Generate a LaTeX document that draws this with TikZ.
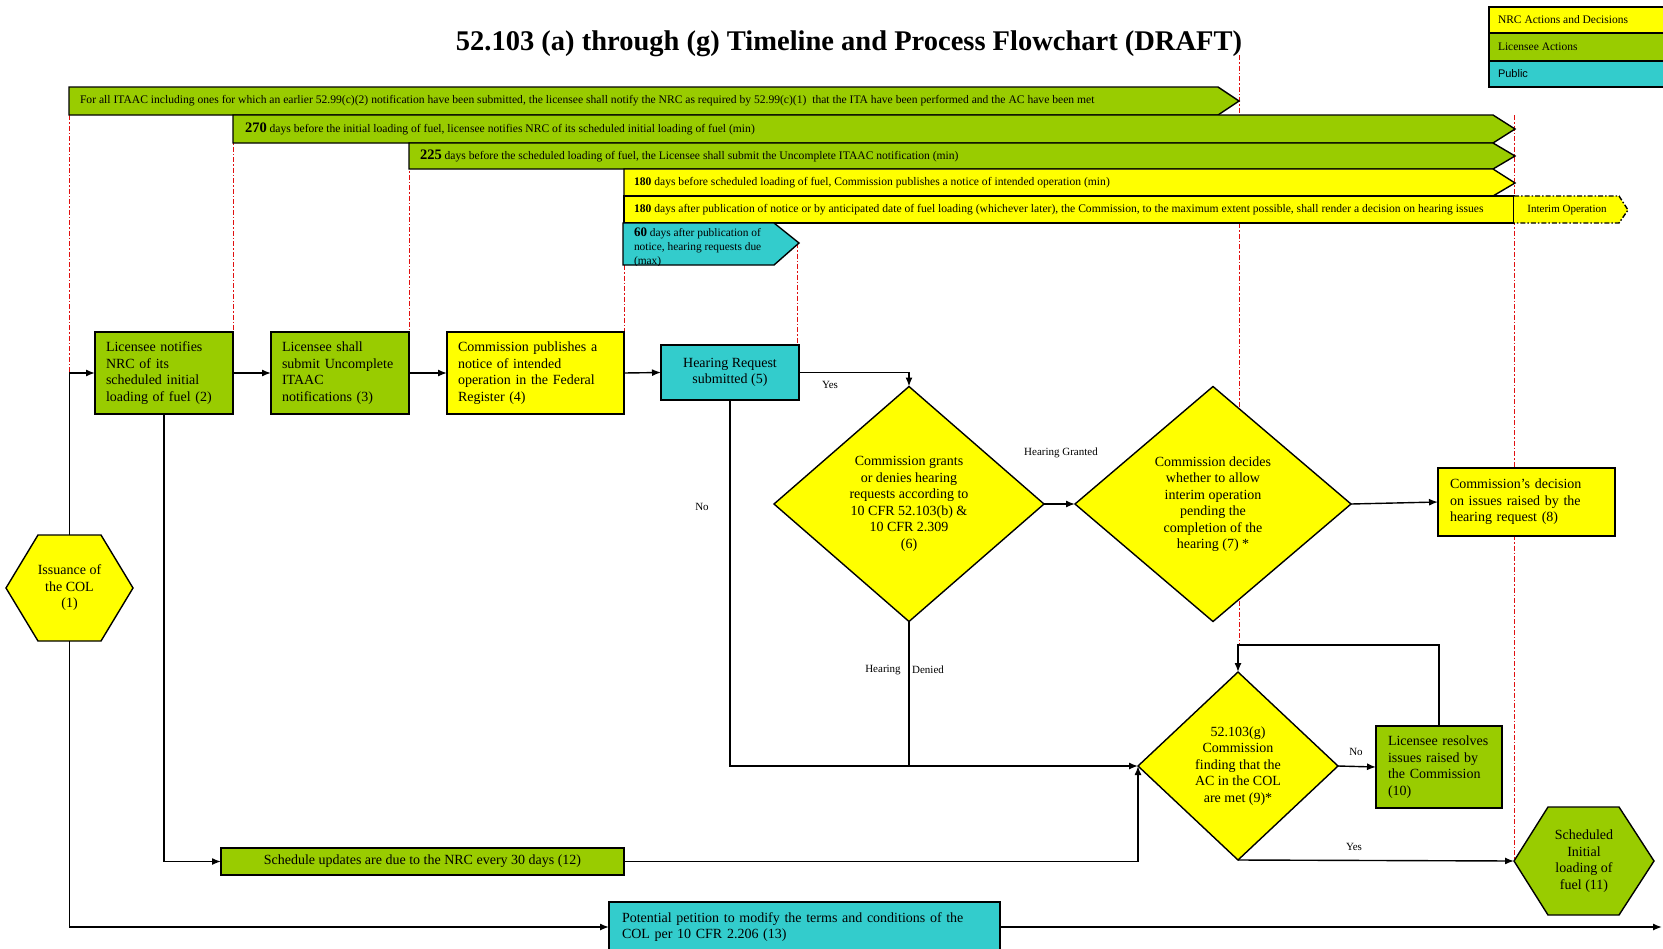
\documentclass[tikz,border=0pt]{standalone}
\usepackage{fontspec}
\setmainfont{Liberation Serif}
\newfontfamily\legsans{Liberation Sans}
\usetikzlibrary{arrows.meta,shapes.geometric,calc}
\definecolor{nrcy}{HTML}{FFFF00}
\definecolor{licg}{HTML}{99CC00}
\definecolor{pubc}{HTML}{33CCCC}
\definecolor{reddash}{HTML}{E01010}
\newcommand\fs[2]{\fontsize{#1}{#2}\selectfont}
\begin{document}
\begin{tikzpicture}[x=1pt,y=-1pt,
  every node/.style={inner sep=0pt, outer sep=0pt},
  border/.style={draw=black, line width=1.4pt},
  box/.style={border, font=\fs{14}{16.5}},
  leftbox/.style={box, align=left},
  ctrbox/.style={box, align=center},
  dia/.style={border, diamond, fill=nrcy, align=center, font=\fs{14}{16.5}},
  bartext/.style={anchor=west, font=\fs{11.6}{13}},
  redline/.style={draw=reddash, line width=0.9pt, dash pattern=on 5pt off 2pt on 1.5pt off 2pt},
  conn/.style={draw=black, line width=1.4pt},
  arr/.style={conn, -{Latex[length=9pt,width=7pt]}},
  lbl/.style={font=\fs{11}{12}},
  legtext/.style={anchor=west, font=\fs{11.5}{13}}
]
\useasboundingbox (0,0) rectangle (1663,948);

% title
\node[font=\fs{28.5}{31}\bfseries] (title) at (849,44) {52.103 (a) through (g) Timeline and Process Flowchart (DRAFT)};

% legend
\filldraw[nrcy, border] (1489,7) rectangle (1665,33);
\filldraw[licg, border] (1489,33) rectangle (1665,61);
\filldraw[pubc, border] (1489,61) rectangle (1665,87);
\node[legtext] (legA) at (1498,20) {NRC Actions and Decisions};
\node[legtext] (legB) at (1498,47) {Licensee Actions};
\node[legtext, font=\legsans\fs{11}{13}] (legC) at (1498,74) {Public};

% red timeline markers
\draw[redline] (69,115) -- (69,400);
\draw[redline] (233,115) -- (233,332);
\draw[redline] (409,143) -- (409,332);
\draw[redline] (624,265) -- (624,332);
\draw[redline] (797,243) -- (797,345);
\draw[redline] (1239,55) -- (1239,645);
\draw[redline] (1514,115) -- (1514,861);

% timeline bars
\filldraw[licg, border] (69,87) -- (1218,87) -- (1239,101) -- (1218,115) -- (69,115) -- cycle;
\node[bartext] (bar1) at (80,101) {For all ITAAC including ones for which an earlier 52.99(c)(2) notification have been submitted, the licensee shall notify the NRC as required by 52.99(c)(1)\ \ that the ITA have been performed and the AC have been met};

\filldraw[licg, border] (233,115) -- (1493,115) -- (1515,129) -- (1493,143) -- (233,143) -- cycle;
\node[bartext] (bar2) at (245,129) {{\fs{14.5}{14}\bfseries 270} days before the initial loading of fuel, licensee notifies NRC of its scheduled initial loading of fuel (min)};

\filldraw[licg, border] (409,143) -- (1493,143) -- (1515,156) -- (1493,169) -- (409,169) -- cycle;
\node[bartext] (bar3) at (420,156) {{\fs{14.5}{14}\bfseries 225} days before the scheduled loading of fuel, the Licensee shall submit the Uncomplete ITAAC notification (min)};

\filldraw[nrcy, border] (624,169) -- (1493,169) -- (1515,183) -- (1493,196) -- (624,196) -- cycle;
\node[bartext] (bar4) at (634,183) {{\bfseries 180} days before scheduled loading of fuel, Commission publishes a notice of intended operation (min)};

\filldraw[nrcy, border] (624,196) rectangle (1514,223);
\node[bartext] (bar5) at (634,210) {{\bfseries 180} days after publication of notice or by anticipated date of fuel loading (whichever later), the Commission, to the maximum extent possible, shall render a decision on hearing issues};

\filldraw[nrcy, draw=black, line width=1.4pt, dash pattern=on 5pt off 2pt on 1.5pt off 2pt] (1514,196) -- (1619,196) -- (1628,210) -- (1619,223) -- (1514,223);
\node[font=\fs{11}{12}] (interim) at (1567,210) {Interim Operation};

\fill[pubc] (623,223) -- (774,223) -- (799,243) -- (774,265) -- (623,265) -- cycle;
\begin{scope}
\clip (623,223) -- (774,223) -- (799,243) -- (774,265) -- (623,265) -- cycle;
\node[anchor=north west, align=left, font=\fs{11.4}{14}] (bar6) at (634,228) {{\fs{13}{13}\bfseries 60} days after publication of\\notice, hearing requests due\\(max)};
\end{scope}
\draw[border] (623,223) -- (774,223) -- (799,243) -- (774,265) -- (623,265) -- cycle;

% process boxes
\node[leftbox, fill=licg, minimum width=138pt, minimum height=82pt, text width=116pt] (b2) at (164,373) {Licensee notifies\\NRC of its\\scheduled initial\\loading of fuel (2)};
\node[leftbox, fill=licg, minimum width=138pt, minimum height=82pt, text width=116pt] (b3) at (340,373) {Licensee shall\\submit Uncomplete\\ITAAC\\notifications (3)};
\node[leftbox, fill=nrcy, minimum width=177pt, minimum height=82pt, text width=155pt] (b4) at (535.5,373) {Commission publishes a\\notice of intended\\operation in the Federal\\Register (4)};
\node[ctrbox, fill=pubc, minimum width=138pt, minimum height=55pt] (b5) at (730,372.5) {Hearing Request\\submitted (5)};

\node[dia, minimum width=270pt, minimum height=235pt] (d6) at (909,504) {Commission grants\\or denies hearing\\requests according to\\10 CFR 52.103(b) \&\\10 CFR 2.309\\(6)};
\node[dia, minimum width=276pt, minimum height=235pt] (d7) at (1213,504) {Commission decides\\whether to allow\\interim operation\\pending the\\completion of the\\hearing (7) *};
\node[leftbox, fill=nrcy, minimum width=177pt, minimum height=68pt, text width=153pt] (b8) at (1526.5,502) {Commission's decision\\on issues raised by the\\hearing request (8)};

\node[dia, minimum width=200pt, minimum height=188pt] (d9) at (1238,766) {52.103(g)\\Commission\\finding that the\\AC in the COL\\are met (9)*};
\node[leftbox, fill=licg, minimum width=126pt, minimum height=82pt, text width=102pt] (b10) at (1439,767) {Licensee resolves\\issues raised by\\the Commission\\(10)};

% hexagons
\filldraw[nrcy, border] (6,588) -- (38,535) -- (101,535) -- (133,588) -- (101,641) -- (38,641) -- cycle;
\node[align=center, font=\fs{14}{16.5}, minimum width=127pt, minimum height=106pt] (h1) at (69.5,588) {Issuance of\\the COL\\(1)};
\filldraw[licg, border] (1514,861) -- (1548,807) -- (1619,807) -- (1654,861) -- (1619,915) -- (1548,915) -- cycle;
\node[align=center, font=\fs{14}{16.5}, minimum width=140pt, minimum height=108pt] (h11) at (1584,861) {Scheduled\\Initial\\loading of\\fuel (11)};

\node[ctrbox, fill=licg, minimum width=403pt, minimum height=27pt] (b12) at (422.5,861.5) {Schedule updates are due to the NRC every 30 days (12)};
\node[leftbox, fill=pubc, minimum width=391pt, minimum height=50pt, text width=365pt] (b13) at (804.5,927) {Potential petition to modify the terms and conditions of the\\COL per 10 CFR 2.206 (13)};

\coordinate (rightend) at (1662,927);
\coordinate (loop) at (1439,645);

% connectors
\draw[arr] (h1.north) |- (b2.west);
\draw[arr] (b2.east) -- (b3.west);
\draw[arr] (b3.east) -- (b4.west);
\draw[arr] (b4.east) -- (b5.west);
\draw[arr] (b5.east) -| (d6.north);
\draw[arr] (b5.south) |- (d9.west);
\draw[conn] (d6.south) -- (d6.south |- d9.west);
\draw[arr] (d6.east) -- (d7.west);
\draw[arr] (d7.east) -- (b8.west);
\draw[arr] (b2.south) |- (b12.west);
\draw[arr] (b12.east) -| (d9.west);
\draw[arr] (d9.east) -- (b10.west);
\draw[arr] (b10.north) -- (loop) -| (d9.north);
\draw[arr] (d9.south) -- (h11.west);
\draw[arr] (h1.south) |- (b13.west);
\draw[arr] (b13.east) -- (rightend);

% labels
\node[lbl] (lyes1) at (830,385) {Yes};
\node[lbl] (lno1) at (702,507) {No};
\node[lbl] (lgrant) at (1061,453) {Hearing Granted};
\node[lbl] (lhear) at (883,670) {Hearing};
\node[lbl] (ldeny) at (928,670) {Denied};
\node[lbl] (lno2) at (1356,752) {No};
\node[lbl] (lyes2) at (1354,847) {Yes};
\end{tikzpicture}
\end{document}
